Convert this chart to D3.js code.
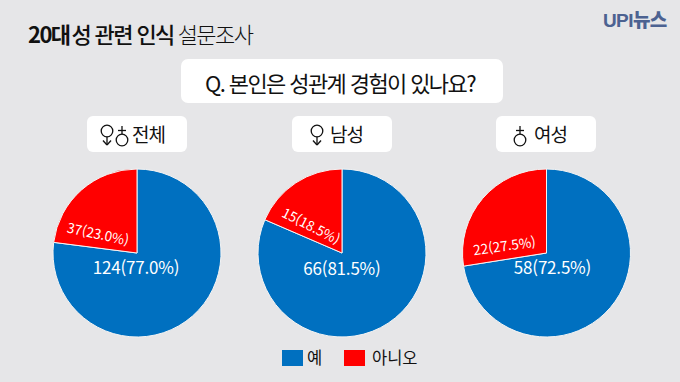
<!DOCTYPE html>
<html lang="ko">
<head>
<meta charset="utf-8">
<script src="https://cdn.jsdelivr.net/npm/d3@7"></script>
<style>
  html, body { margin: 0; padding: 0; background: #e6e6e8; }
  svg { display: block; }
  text { font-family: "Noto Sans CJK KR", "Noto Sans", sans-serif; }
</style>
</head>
<body>
<div id="chart"></div>
<script>
const categories = ['예', '아니오'];
const groups = ['전체', '남성', '여성'];
const yesCounts = [124, 66, 58];
const noCounts = [37, 15, 22];
const yesShares = ['77.0', '81.5', '72.5'];
const noShares = ['23.0', '18.5', '27.5'];

const WIDTH = 680;
const HEIGHT = 382;
const RADIUS = 84;
const COLORS = ['#0070c0', '#ff0000'];

// one entry per pie: centre, group tag and the hand placed labels
const PIES = [
    { cx: 137, cy: 253, tag: [87, 187], textX: 132, yes: [-1, 15], no: [-39, -19, 12] },
    { cx: 342, cy: 253, tag: [292, 392], textX: 330, yes: [0, 16], no: [-31, -27, 27] },
    { cx: 546.5, cy: 253, tag: [496, 596], textX: 534, yes: [6, 15], no: [-42, -7, -8] }
];

const svg = d3.select('#chart').append('svg').attr('width', WIDTH).attr('height', HEIGHT);
svg.append('rect').attr('width', WIDTH).attr('height', HEIGHT).attr('fill', '#e6e6e8');

// title
const title = svg.append('text').attr('x', 28).attr('y', 43)
    .attr('font-size', 22).attr('letter-spacing', -1.6).attr('fill', '#111');
title.append('tspan').attr('font-weight', 700).text('20대');
title.append('tspan').attr('font-weight', 500).attr('dx', 2).text('성 관련 인식');
title.append('tspan').attr('font-weight', 300).attr('dx', 4).text('설문조사');

// logo
const logo = svg.append('text').attr('x', 603).attr('y', 27)
    .attr('font-size', 19).attr('font-weight', 900).attr('letter-spacing', -0.6).attr('fill', '#4c6291');
logo.append('tspan').attr('font-family', '"Liberation Sans", sans-serif').text('UPI');
logo.append('tspan').text('뉴스');

// question box
svg.append('rect').attr('x', 181).attr('y', 59).attr('width', 322).attr('height', 44)
    .attr('rx', 7).attr('fill', '#fff');
svg.append('text').attr('x', 340).attr('y', 92).attr('text-anchor', 'middle')
    .attr('font-size', 22).attr('font-weight', 400).attr('letter-spacing', -1.6).attr('fill', '#111')
    .text('Q. 본인은 성관계 경험이 있나요?');

function drawIcon(g, type, x, y) {
    const line = (x1, y1, x2, y2) => g.append('line')
        .attr('x1', x + x1).attr('y1', y + y1).attr('x2', x + x2).attr('y2', y + y2)
        .attr('stroke', '#111').attr('stroke-width', 1.3).attr('fill', 'none');
    g.append('circle').attr('cx', x).attr('cy', y).attr('r', 5.8)
        .attr('fill', 'none').attr('stroke', '#111').attr('stroke-width', 1.3);
    if (type === 'f') {
        line(0, 5.8, 0, 14);
        line(-4, 9.5, 0, 14);
        line(4, 9.5, 0, 14);
    } else {
        line(0, -5.8, 0, -14);
        line(-4, -9.5, 4, -9.5);
    }
}

const pie = d3.pie().sort(null).value(d => d);
const arc = d3.arc().innerRadius(0).outerRadius(RADIUS);

PIES.forEach((p, i) => {
    const xTag = d3.scaleLinear().domain([0, 1]).range(p.tag);
    svg.append('rect').attr('x', xTag(0)).attr('y', 116).attr('width', xTag(1) - xTag(0)).attr('height', 36)
        .attr('rx', 6).attr('fill', '#fff');

    if (i === 0) {
        drawIcon(svg, 'f', 107, 131);
        drawIcon(svg, 'm', 122, 140);
    } else if (i === 1) {
        drawIcon(svg, 'f', 317, 131);
    } else {
        drawIcon(svg, 'm', 520, 140);
    }
    svg.append('text').attr('x', p.textX).attr('y', 142).attr('font-size', 19).attr('font-weight', 400)
        .attr('letter-spacing', -1).attr('fill', '#111')
        .text(groups[i]);

    const g = svg.append('g').attr('transform', `translate(${p.cx},${p.cy})`);
    g.selectAll('path').data(pie([yesCounts[i], noCounts[i]])).enter().append('path')
        .attr('d', arc)
        .attr('fill', (d, k) => COLORS[k])
        .attr('stroke', '#f4f4f4')
        .attr('stroke-width', 1);

    g.append('text').attr('x', p.yes[0]).attr('y', p.yes[1] + 6).attr('text-anchor', 'middle')
        .attr('font-size', 17).attr('font-weight', 400).attr('letter-spacing', -0.2).attr('fill', '#fff')
        .text(`${yesCounts[i]}(${yesShares[i]}%)`);
    g.append('text').attr('text-anchor', 'middle')
        .attr('transform', `translate(${p.no[0]},${p.no[1]}) rotate(${p.no[2]})`)
        .attr('dy', 5)
        .attr('font-size', 13.5).attr('font-weight', 400).attr('fill', '#fff')
        .text(`${noCounts[i]}(${noShares[i]}%)`);
});

// legend
const LEGEND_X = [282, 344];
categories.forEach((c, i) => {
    svg.append('rect').attr('x', LEGEND_X[i]).attr('y', 350).attr('width', 21).attr('height', 16)
        .attr('fill', COLORS[i]);
    svg.append('text').attr('x', LEGEND_X[i] + (i === 0 ? 25 : 28)).attr('y', 364)
        .attr('font-size', 16.5).attr('font-weight', 400).attr('fill', '#111').text(c);
});
</script>
</body>
</html>
